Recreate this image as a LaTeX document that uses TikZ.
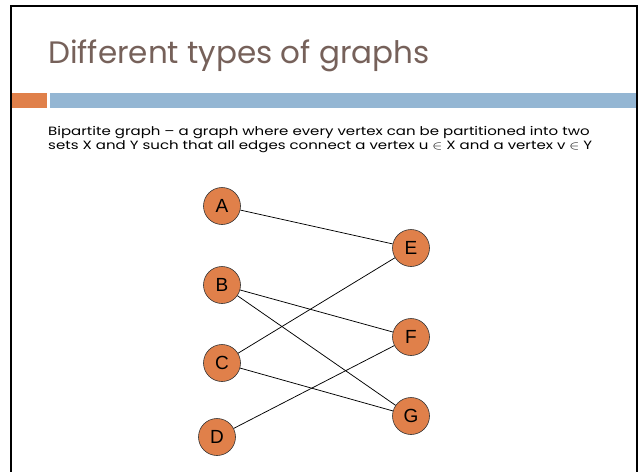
\documentclass[tikz,border=0pt]{standalone}
\usepackage{fontspec}
\setmainfont{Poppins}
\newfontfamily\nodefont{Liberation Sans}
\definecolor{vorange}{HTML}{E0804A}
\definecolor{barblue}{HTML}{94B6D3}
\definecolor{titlebrown}{HTML}{76615A}
\tikzset{
  vertex/.style={circle,draw=black!80,line width=0.6pt,fill=vorange,
    minimum size=37pt,inner sep=0pt,font=\nodefont\fontsize{19}{19}\selectfont},
  edge/.style={line width=0.75pt},
  textline/.style={anchor=base west,inner sep=0pt,text height=9pt,text depth=2pt,
    font=\fontsize{12}{12}\selectfont}
}
\newcommand{\widetext}[1]{\scalebox{1.25}[1]{#1}}
\begin{document}
\begin{tikzpicture}[x=1pt,y=-1pt]
  \useasboundingbox (0,0) rectangle (641,472);
  % Slide frame (open at the bottom)
  \draw[line width=2.5pt] (11,480) -- (11,6) -- (637,6) -- (637,480);
  % Bars under the title
  \fill[vorange] (12,93) rectangle (47,108);
  \fill[barblue] (50,93) rectangle (636,108);
  % Title and text
  \node[anchor=base west,inner sep=0pt,text=titlebrown,font=\fontsize{31}{31}\selectfont]
    (title) at (48,63) {Different types of graphs};
  \node[textline] (line1) at (48,135)
    {\widetext{Bipartite graph -- a graph where every vertex can be partitioned into two}};
  \node[textline] (line2) at (48,149)
    {\widetext{sets X and Y such that all edges connect a vertex u $\in$ X and a vertex v $\in$ Y}};
  % Vertices
  \node[vertex] (A) at (222,206) {A};
  \node[vertex] (B) at (222,285) {B};
  \node[vertex] (C) at (222,363) {C};
  \node[vertex] (D) at (217,437) {D};
  \node[vertex] (E) at (411,248) {E};
  \node[vertex] (F) at (411,337) {F};
  \node[vertex] (G) at (411,416) {G};
  % Edges
  \foreach \u/\v in {A/E,B/F,B/G,C/E,C/G,D/F}
    \draw[edge] (\u) -- (\v);
\end{tikzpicture}
\end{document}
